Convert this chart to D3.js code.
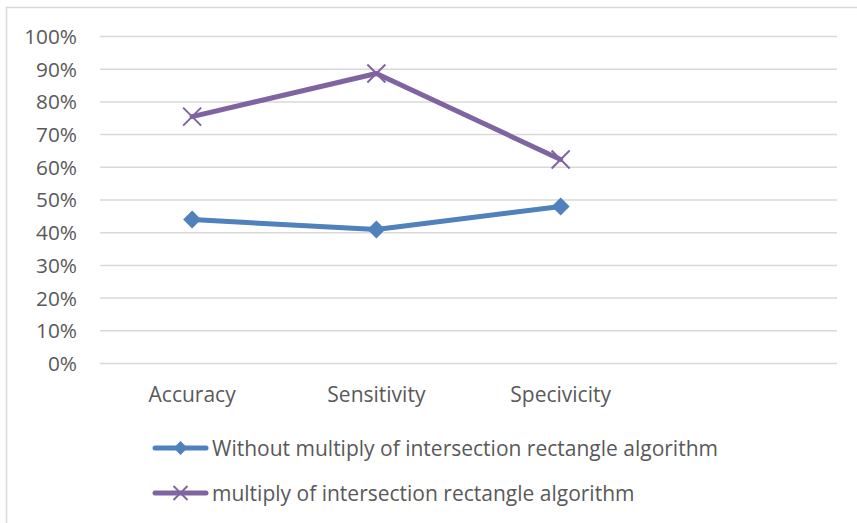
<!DOCTYPE html>
<html>
<head>
<meta charset="utf-8">
<script src="https://cdn.jsdelivr.net/npm/d3@7"></script>
<style>
	body { margin: 0; background: #fff; }
	text { font-family: "Open Sans", sans-serif; fill: #595959; }
</style>
</head>
<body>
<svg id="chart" width="857" height="523"></svg>
<script>
const categories = ["Accuracy", "Sensitivity", "Specivicity", ""];
const withoutValues = [0.44, 0.41, 0.48];
const withValues = [0.755, 0.887, 0.624];
const seriesNames = [
	"Without multiply of intersection rectangle algorithm",
	"multiply of intersection rectangle algorithm"
];
const yTicks = [0, 0.1, 0.2, 0.3, 0.4, 0.5, 0.6, 0.7, 0.8, 0.9, 1];

const blue = "#4f81bd";
const purple = "#8064a2";

const svg = d3.select("#chart");

// chart frame
svg.append("rect")
	.attr("x", 6.5)
	.attr("y", 7.5)
	.attr("width", 900)
	.attr("height", 600)
	.attr("fill", "none")
	.attr("stroke", "#d9d9d9")
	.attr("stroke-width", 1.5);

const plotLeft = 100, plotRight = 837;
const x = d3.scaleBand().domain(categories).range([plotLeft, plotRight]);
const y = d3.scaleLinear().domain([0, 1]).range([363.5, 36.5]);

// gridlines
svg.append("g")
	.selectAll("line")
	.data(yTicks)
	.enter()
	.append("line")
	.attr("x1", plotLeft)
	.attr("x2", plotRight)
	.attr("y1", d => y(d))
	.attr("y2", d => y(d))
	.attr("stroke", "#d9d9d9")
	.attr("stroke-width", 1.5);

// y labels
svg.append("g")
	.selectAll("text")
	.data(yTicks)
	.enter()
	.append("text")
	.attr("x", 77)
	.attr("y", d => y(d))
	.attr("dy", "0.36em")
	.attr("text-anchor", "end")
	.style("font-size", "20.8px")
	.text(d => d3.format(".0%")(d));

// x labels
svg.append("g")
	.selectAll("text")
	.data(categories.filter(c => c !== ""))
	.enter()
	.append("text")
	.attr("x", d => x(d) + x.bandwidth() / 2)
	.attr("y", 402)
	.attr("text-anchor", "middle")
	.style("font-size", "21px")
	.text(d => d);

const cx = (_, i) => x(categories[i]) + x.bandwidth() / 2;
const line = d3.line().x(cx).y(d => y(d));

function diamond(g, px, py, r) {
	g.append("path")
		.attr("d", `M${px},${py - r}L${px + r},${py}L${px},${py + r}L${px - r},${py}Z`)
		.attr("fill", blue);
}

function cross(g, px, py, r) {
	g.append("path")
		.attr("d", `M${px - r},${py - r}L${px + r},${py + r}M${px - r},${py + r}L${px + r},${py - r}`)
		.attr("stroke", purple)
		.attr("stroke-width", 2)
		.attr("fill", "none");
}

// series lines
svg.append("path")
	.attr("d", line(withoutValues))
	.attr("fill", "none")
	.attr("stroke", blue)
	.attr("stroke-width", 5)
	.attr("stroke-linejoin", "round")
	.attr("stroke-linecap", "round");

svg.append("path")
	.attr("d", line(withValues))
	.attr("fill", "none")
	.attr("stroke", purple)
	.attr("stroke-width", 5)
	.attr("stroke-linejoin", "round")
	.attr("stroke-linecap", "round");

const markers = svg.append("g");
withoutValues.forEach((v, i) => diamond(markers, cx(v, i), y(v), 9));
withValues.forEach((v, i) => cross(markers, cx(v, i), y(v), 9));

// legend
const legend = svg.append("g");
const legendRows = [
	{ name: seriesNames[0], color: blue, y: 448, mark: diamond },
	{ name: seriesNames[1], color: purple, y: 493, mark: cross }
];
legendRows.forEach(row => {
	legend.append("line")
		.attr("x1", 155)
		.attr("x2", 206)
		.attr("y1", row.y)
		.attr("y2", row.y)
		.attr("stroke", row.color)
		.attr("stroke-width", 5)
		.attr("stroke-linecap", "round");
	row.mark(legend, 180.5, row.y, 7);
	legend.append("text")
		.attr("x", 212)
		.attr("y", row.y)
		.attr("dy", "0.36em")
		.style("font-size", "21px")
		.text(row.name);
});
</script>
</body>
</html>
